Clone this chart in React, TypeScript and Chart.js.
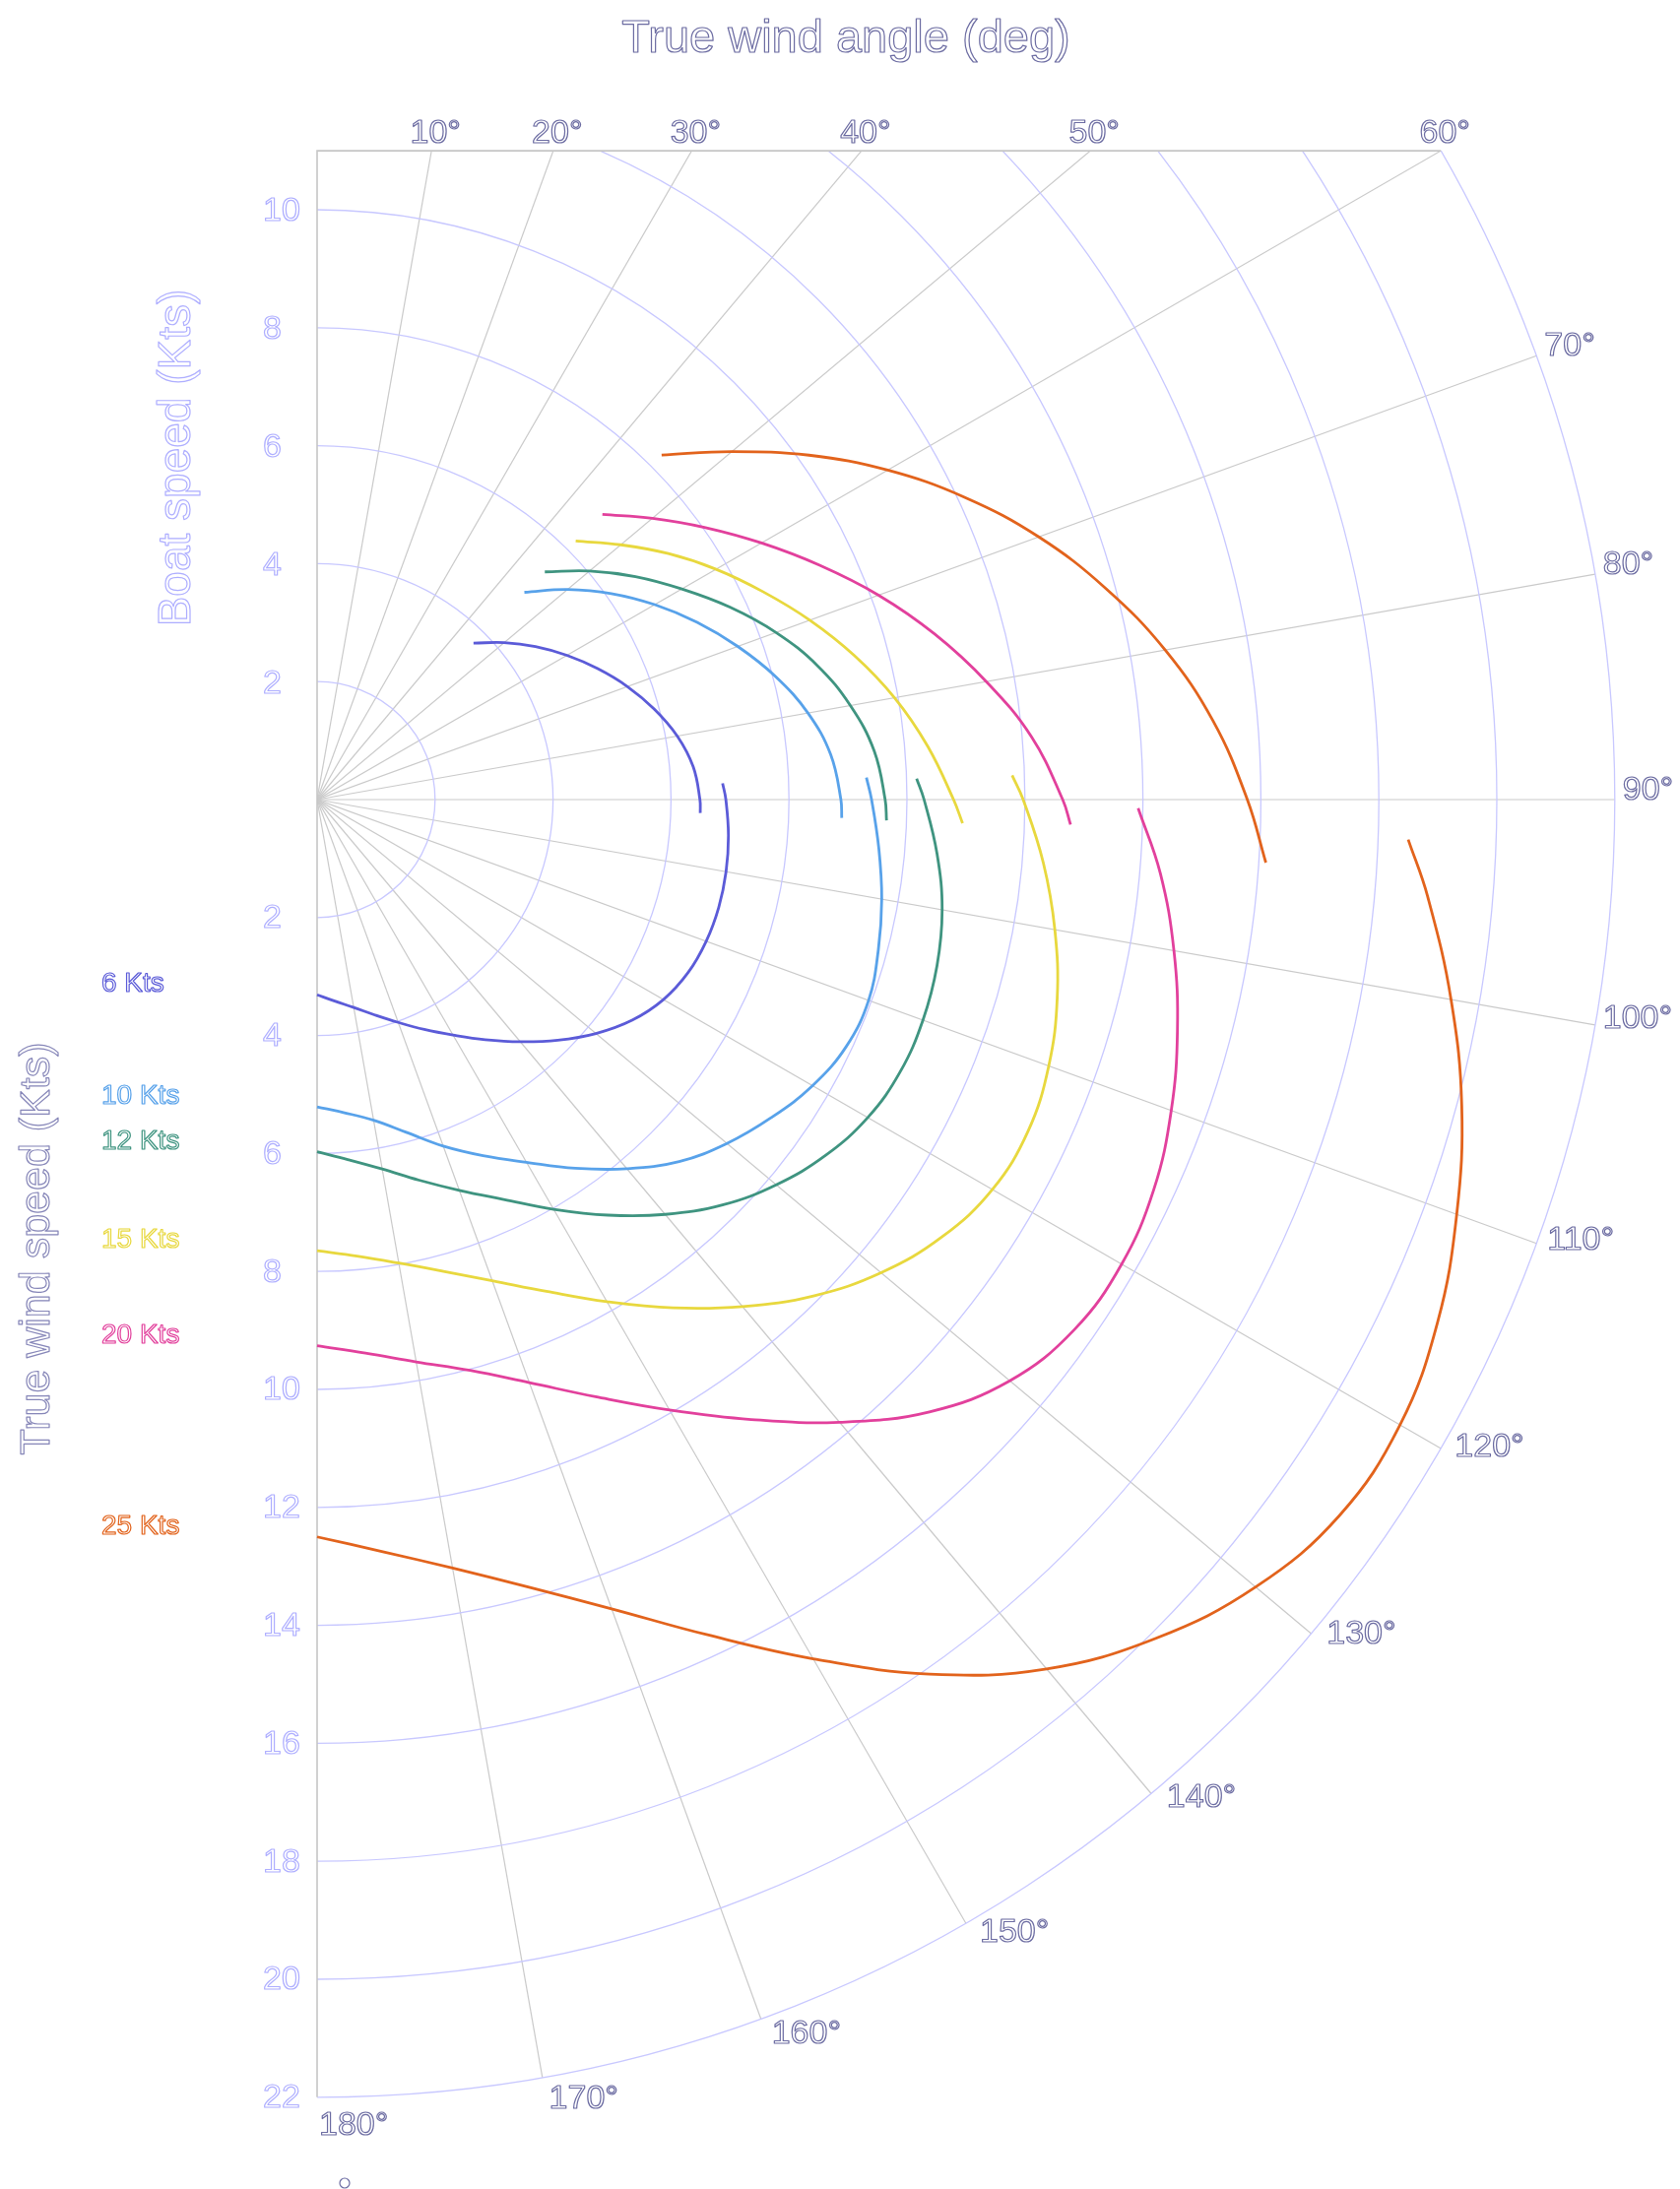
import React, { useEffect, useRef } from "react";
import { Chart, registerables } from "chart.js";

Chart.register(...registerables);

// ---------- data (true wind angle in degrees, boat speed in knots) ----------
const WIND_LABELS = ["6 Kts", "10 Kts", "12 Kts", "15 Kts", "20 Kts", "25 Kts"];
const WIND_COLORS = ["#5b5bd8", "#58a2ea", "#3f9480", "#e8d83e", "#e2409c", "#e2631c"];

const UP_ANGLES = [45, 50, 55, 60, 65, 70, 75, 80, 85, 90];

const UP_ANGLES_6 = [...UP_ANGLES, 92];
const UP_SPEEDS_6 = [3.75, 4.14, 4.52, 4.89, 5.25, 5.6, 5.92, 6.2, 6.4, 6.49, 6.5];
const DOWN_ANGLES_6 = [87.7, 90, 95, 100, 105, 110, 115, 120, 125, 130, 135, 140, 145, 150, 155, 160, 165, 170, 175, 180];
const DOWN_SPEEDS_6 = [6.88, 6.93, 7.0, 7.04, 7.05, 7.02, 6.94, 6.78, 6.52, 6.17, 5.77, 5.36, 4.97, 4.61, 4.3, 4.02, 3.78, 3.58, 3.43, 3.31];

const UP_ANGLES_10 = [...UP_ANGLES, 92];
const UP_SPEEDS_10 = [4.97, 5.54, 6.09, 6.61, 7.11, 7.59, 8.05, 8.45, 8.74, 8.88, 8.9];
const DOWN_ANGLES_10 = [87.7, 90, 95, 100, 105, 110, 115, 120, 125, 130, 135, 140, 145, 150, 155, 160, 165, 170, 175, 180];
const DOWN_SPEEDS_10 = [9.32, 9.4, 9.56, 9.72, 9.85, 9.95, 9.9, 9.7, 9.4, 9.07, 8.68, 8.17, 7.63, 7.1, 6.66, 6.25, 5.84, 5.52, 5.33, 5.21];

const UP_ANGLES_12 = [...UP_ANGLES, 92.1];
const UP_SPEEDS_12 = [5.46, 6.03, 6.59, 7.14, 7.72, 8.28, 8.78, 9.18, 9.48, 9.63, 9.66];
const DOWN_ANGLES_12 = [88, 90, 95, 100, 105, 110, 115, 120, 125, 130, 135, 140, 145, 150, 155, 160, 165, 170, 175, 180];
const DOWN_SPEEDS_12 = [10.17, 10.29, 10.55, 10.76, 10.88, 10.93, 10.91, 10.78, 10.52, 10.16, 9.72, 9.18, 8.6, 8.02, 7.48, 7.05, 6.68, 6.36, 6.13, 5.97];

const UP_ANGLES_15 = [...UP_ANGLES, 92.1];
const UP_SPEEDS_15 = [6.2, 6.72, 7.27, 7.81, 8.34, 8.89, 9.43, 9.94, 10.39, 10.79, 10.95];
const DOWN_ANGLES_15 = [88, 90, 95, 100, 105, 110, 115, 120, 125, 130, 135, 140, 145, 150, 155, 160, 165, 170, 175, 180];
const DOWN_SPEEDS_15 = [11.79, 11.97, 12.36, 12.7, 12.99, 13.2, 13.3, 13.22, 12.93, 12.48, 11.9, 11.22, 10.52, 9.83, 9.2, 8.68, 8.28, 7.98, 7.77, 7.65];

const UP_ANGLES_20 = [...UP_ANGLES, 91.9];
const UP_SPEEDS_20 = [6.84, 7.42, 8.04, 8.7, 9.4, 10.13, 10.84, 11.52, 12.16, 12.64, 12.78];
const DOWN_ANGLES_20 = [90.6, 95, 100, 105, 110, 115, 120, 125, 130, 135, 140, 145, 150, 155, 160, 165, 170, 175, 180];
const DOWN_SPEEDS_20 = [13.92, 14.35, 14.75, 15.1, 15.41, 15.65, 15.75, 15.67, 15.33, 14.68, 13.78, 12.83, 11.95, 11.17, 10.52, 10.02, 9.68, 9.42, 9.26];

const UP_ANGLES_25 = [...UP_ANGLES, 93.8];
const UP_SPEEDS_25 = [8.26, 9.18, 10.18, 11.17, 12.12, 13.02, 13.84, 14.6, 15.25, 15.77, 16.12];
const DOWN_ANGLES_25 = [92.1, 95, 100, 105, 110, 115, 120, 125, 130, 135, 140, 145, 150, 155, 160, 165, 170, 175, 180];
const DOWN_SPEEDS_25 = [18.51, 18.9, 19.52, 20.09, 20.56, 20.96, 21.2, 21.16, 20.77, 20.11, 19.24, 18.1, 16.82, 15.62, 14.6, 13.82, 13.23, 12.8, 12.5];

// ---------- axis ticks ----------
const ANGLE_TICKS = [10, 20, 30, 40, 50, 60, 70, 80, 90, 100, 110, 120, 130, 140, 150, 160, 170, 180];
const SPEED_RINGS = [2, 4, 6, 8, 10, 12, 14, 16, 18, 20, 22];
const UPPER_SPEED_TICKS = [2, 4, 6, 8, 10];
const LOWER_SPEED_TICKS = [2, 4, 6, 8, 10, 12, 14, 16, 18, 20, 22];
const R_MAX = 22;
const TOP_LIMIT = 11;

const TITLE_TOP = "True wind angle (deg)";
const TITLE_BOAT = "Boat speed (Kts)";
const TITLE_WIND = "True wind speed (Kts)";

// ---------- layout (canvas pixels) ----------
const W = 1690;
const H = 2215;
const CX = 314;
const CY = 804;
const PX_PER_KT = 59.9;

const FONT = '"Liberation Sans", Arial, Helvetica, sans-serif';
const DARK_TEXT = "#6c6ca2";
const LIGHT_TEXT = "#aeaeff";

const SERIES = [
  { up: [UP_ANGLES_6, UP_SPEEDS_6], down: [DOWN_ANGLES_6, DOWN_SPEEDS_6] },
  { up: [UP_ANGLES_10, UP_SPEEDS_10], down: [DOWN_ANGLES_10, DOWN_SPEEDS_10] },
  { up: [UP_ANGLES_12, UP_SPEEDS_12], down: [DOWN_ANGLES_12, DOWN_SPEEDS_12] },
  { up: [UP_ANGLES_15, UP_SPEEDS_15], down: [DOWN_ANGLES_15, DOWN_SPEEDS_15] },
  { up: [UP_ANGLES_20, UP_SPEEDS_20], down: [DOWN_ANGLES_20, DOWN_SPEEDS_20] },
  { up: [UP_ANGLES_25, UP_SPEEDS_25], down: [DOWN_ANGLES_25, DOWN_SPEEDS_25] },
];

const rad = (d: number) => (d * Math.PI) / 180;

function toXY(angles: number[], speeds: number[]) {
  return angles.map((a, i) => ({
    x: speeds[i] * Math.sin(rad(a)),
    y: speeds[i] * Math.cos(rad(a)),
  }));
}

function labelDx(a: number) {
  const phi = a - 90;
  if (phi <= 0) return 8;
  const v = 2 + 14 * Math.sin(rad(2 * phi));
  return phi < 45 ? Math.max(8, v) : v;
}
function labelDy(a: number) {
  const phi = a - 90;
  if (phi <= 0) return 0;
  return 38 * (1 - Math.sin(rad(a))) + 4 * Math.max(0, Math.sin(rad(4 * phi)));
}

const polarPlugin = {
  id: "polarGrid",
  beforeDatasetsDraw(chart: any) {
    const { ctx } = chart;
    const xs = chart.scales.x;
    const ys = chart.scales.y;
    const cx = xs.getPixelForValue(0);
    const cy = ys.getPixelForValue(0);
    const k = xs.getPixelForValue(1) - cx;
    const R = R_MAX * k;
    const topY = ys.getPixelForValue(TOP_LIMIT);
    const bottomY = ys.getPixelForValue(-R_MAX);

    ctx.save();
    ctx.beginPath();
    ctx.rect(cx, topY, R + 20, bottomY - topY + 20);
    ctx.clip();
    ctx.strokeStyle = "#cacaca";
    ctx.lineWidth = 1.2;
    for (const a of ANGLE_TICKS) {
      if (a >= 180) continue;
      const t = rad(a);
      ctx.beginPath();
      ctx.moveTo(cx, cy);
      ctx.lineTo(cx + R * Math.sin(t), cy - R * Math.cos(t));
      ctx.stroke();
    }
    ctx.strokeStyle = "#c8c8ff";
    ctx.lineWidth = 1.3;
    for (const r of SPEED_RINGS) {
      ctx.beginPath();
      ctx.arc(cx, cy, r * k, -Math.PI / 2, Math.PI / 2);
      ctx.stroke();
    }
    ctx.restore();

    // frame: left axis and top edge
    const topHalf = Math.sqrt(Math.max(0, R * R - (cy - topY) * (cy - topY)));
    ctx.save();
    ctx.strokeStyle = "#c6c6c6";
    ctx.lineWidth = 1.6;
    ctx.beginPath();
    ctx.moveTo(cx, bottomY);
    ctx.lineTo(cx, topY);
    ctx.lineTo(cx + topHalf, topY);
    ctx.stroke();
    ctx.restore();
  },
  afterDatasetsDraw(chart: any) {
    const { ctx } = chart;
    const xs = chart.scales.x;
    const ys = chart.scales.y;
    const cx = xs.getPixelForValue(0);
    const cy = ys.getPixelForValue(0);
    const k = xs.getPixelForValue(1) - cx;
    const R = R_MAX * k;
    const topY = ys.getPixelForValue(TOP_LIMIT);

    ctx.save();
    ctx.lineWidth = 1.2;
    ctx.lineJoin = "round";

    // boat speed tick labels
    ctx.font = `34px ${FONT}`;
    ctx.strokeStyle = LIGHT_TEXT;
    ctx.textAlign = "left";
    ctx.textBaseline = "middle";
    for (const v of UPPER_SPEED_TICKS) ctx.strokeText(String(v), cx - 55, ys.getPixelForValue(v) + 2);
    for (const v of LOWER_SPEED_TICKS) ctx.strokeText(String(v), cx - 55, ys.getPixelForValue(-v) + 1);

    // angle labels
    ctx.strokeStyle = DARK_TEXT;
    ctx.textBaseline = "alphabetic";
    for (const a of ANGLE_TICKS) {
      const t = rad(a);
      const label = `${a}°`;
      if (R * Math.cos(t) >= cy - topY - 0.5) {
        const x = cx + (cy - topY) * Math.tan(t);
        ctx.textAlign = "center";
        ctx.strokeText(label, x + 4, topY - 8);
      } else {
        const ex = cx + R * Math.sin(t);
        const ey = cy - R * Math.cos(t);
        ctx.textAlign = "left";
        ctx.strokeText(label, ex + labelDx(a), ey + labelDy(a));
      }
    }

    // titles
    ctx.font = `47px ${FONT}`;
    ctx.textAlign = "center";
    ctx.strokeText(TITLE_TOP, 851, 45);

    ctx.save();
    ctx.translate(185, 457);
    ctx.rotate(-Math.PI / 2);
    ctx.font = `46px ${FONT}`;
    ctx.strokeStyle = LIGHT_TEXT;
    ctx.strokeText(TITLE_BOAT, 0, 0);
    ctx.restore();

    ctx.save();
    ctx.translate(42, 1260);
    ctx.rotate(-Math.PI / 2);
    ctx.font = `43px ${FONT}`;
    ctx.strokeStyle = "#8686b8";
    ctx.strokeText(TITLE_WIND, 0, 0);
    ctx.restore();

    // wind speed labels, placed at each curve's 180° value
    ctx.font = `28px ${FONT}`;
    ctx.textAlign = "left";
    SERIES.forEach((s, i) => {
      const speeds = s.down[1];
      const last = speeds[speeds.length - 1];
      ctx.strokeStyle = WIND_COLORS[i];
      ctx.strokeText(WIND_LABELS[i], 95, ys.getPixelForValue(-last) - 3);
    });

    // small marker at bottom
    ctx.strokeStyle = DARK_TEXT;
    ctx.beginPath();
    ctx.arc(342, 2209, 5, 0, Math.PI * 2);
    ctx.stroke();
    ctx.restore();
  },
};

export default function App() {
  const ref = useRef<HTMLCanvasElement | null>(null);

  useEffect(() => {
    if (!ref.current) return;
    const datasets: any[] = [];
    SERIES.forEach((s, i) => {
      for (const seg of [s.up, s.down]) {
        datasets.push({
          label: WIND_LABELS[i],
          data: toXY(seg[0], seg[1]),
          showLine: true,
          borderColor: WIND_COLORS[i],
          backgroundColor: WIND_COLORS[i],
          borderWidth: 2.8,
          pointRadius: 0,
          pointHoverRadius: 0,
          tension: 0.4,
          fill: false,
        });
      }
    });
    const xmin = -CX / PX_PER_KT;
    const xmax = xmin + W / PX_PER_KT;
    const ymax = CY / PX_PER_KT;
    const ymin = ymax - H / PX_PER_KT;
    const chart = new Chart(ref.current, {
      type: "scatter",
      data: { datasets },
      options: {
        animation: false,
        responsive: false,
        maintainAspectRatio: false,
        devicePixelRatio: 1,
        layout: { padding: 0 },
        scales: {
          x: { type: "linear", min: xmin, max: xmax, display: false },
          y: { type: "linear", min: ymin, max: ymax, display: false },
        },
        plugins: { legend: { display: false }, tooltip: { enabled: false } },
      },
      plugins: [polarPlugin],
    } as any);
    return () => chart.destroy();
  }, []);

  return (
    <div style={{ width: W, height: H }}>
      <canvas ref={ref} width={W} height={H} style={{ display: "block", width: W, height: H }} />
    </div>
  );
}
